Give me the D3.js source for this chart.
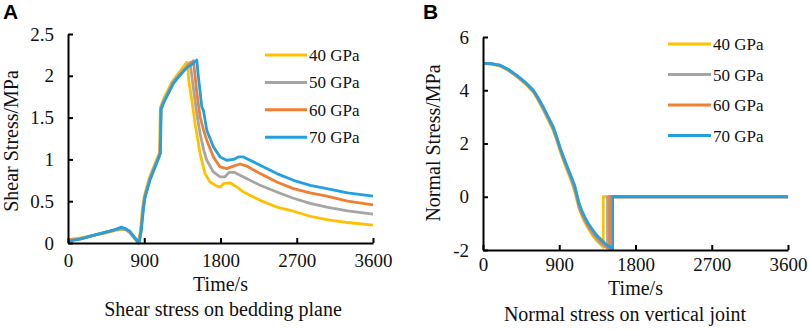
<!DOCTYPE html>
<html>
<head>
<meta charset="utf-8">
<script src="https://cdn.jsdelivr.net/npm/d3@7"></script>
<style>
  body { margin: 0; background: #fff; }
  svg text { font-family: "Liberation Serif", "Times New Roman", serif; fill: #111; }
</style>
</head>
<body>
<div id="chart"></div>
<script>
// ---- data ----
var seriesNames = ["40 GPa", "50 GPa", "60 GPa", "70 GPa"];
var seriesColors = ["#FFC000", "#A5A5A5", "#F07F32", "#23A0E0"];
var timeTicks = [0, 900, 1800, 2700, 3600];
var shearTicks = [0, 0.5, 1, 1.5, 2, 2.5];
var normalTicks = [-2, 0, 2, 4, 6];

// panel A: shear stress on bedding plane, [time s, MPa]
var shear40 = [[0,0.04],[150,0.06],[300,0.09],[450,0.12],[560,0.15],[630,0.16],[680,0.16],[730,0.12],[790,0.05],[830,0.0],[855,0.15],[880,0.42],[900,0.56],[960,0.78],[1035,0.97],[1080,1.08],[1085,1.35],[1090,1.62],[1120,1.7],[1160,1.79],[1230,1.93],[1290,2.01],[1350,2.09],[1400,2.16],[1415,2.1],[1425,1.95],[1461,1.71],[1500,1.43],[1559,1.07],[1618,0.83],[1677,0.73],[1756,0.68],[1800,0.67],[1834,0.71],[1913,0.72],[1992,0.67],[2071,0.61],[2268,0.51],[2465,0.43],[2661,0.38],[2858,0.32],[3055,0.28],[3300,0.245],[3600,0.215]];
var shear50 = [[0,0.03],[150,0.05],[300,0.09],[450,0.13],[560,0.16],[630,0.17],[680,0.16],[730,0.13],[790,0.05],[835,0.0],[860,0.15],[885,0.41],[905,0.55],[965,0.77],[1040,0.96],[1085,1.07],[1090,1.32],[1095,1.61],[1125,1.69],[1165,1.77],[1238,1.92],[1295,1.99],[1355,2.06],[1410,2.12],[1440,2.16],[1455,2.05],[1480,1.85],[1520,1.55],[1559,1.31],[1600,1.12],[1638,0.99],[1716,0.85],[1795,0.79],[1850,0.79],[1900,0.845],[1960,0.845],[2071,0.79],[2268,0.69],[2465,0.61],[2661,0.535],[2858,0.475],[3055,0.43],[3300,0.385],[3600,0.345]];
var shear60 = [[0,0.03],[150,0.05],[300,0.09],[450,0.13],[560,0.16],[630,0.18],[680,0.17],[730,0.13],[790,0.06],[838,0.0],[862,0.15],[887,0.41],[907,0.55],[967,0.76],[1042,0.95],[1087,1.07],[1092,1.31],[1097,1.6],[1127,1.68],[1167,1.76],[1240,1.91],[1298,1.98],[1358,2.05],[1420,2.12],[1480,2.18],[1495,2.05],[1520,1.8],[1559,1.51],[1600,1.35],[1638,1.23],[1716,1.03],[1795,0.91],[1874,0.89],[1953,0.92],[2031,0.945],[2110,0.92],[2268,0.83],[2465,0.73],[2661,0.65],[2858,0.6],[3055,0.56],[3300,0.5],[3600,0.455]];
var shear70 = [[0,0.02],[150,0.05],[300,0.09],[450,0.13],[560,0.16],[630,0.19],[680,0.17],[730,0.14],[790,0.06],[840,0.0],[865,0.15],[890,0.4],[910,0.55],[970,0.76],[1045,0.95],[1090,1.07],[1095,1.3],[1100,1.6],[1130,1.68],[1170,1.76],[1245,1.91],[1300,1.98],[1360,2.05],[1420,2.11],[1470,2.14],[1520,2.19],[1539,1.99],[1579,1.63],[1600,1.58],[1638,1.35],[1716,1.15],[1795,1.03],[1874,0.99],[1953,1.0],[2012,1.03],[2071,1.03],[2268,0.93],[2465,0.83],[2661,0.75],[2858,0.69],[3055,0.65],[3300,0.6],[3600,0.56]];

// panel B: normal stress on vertical joint, [time s, MPa]
var normal40 = [[0,5.0],[100,4.98],[203,4.91],[300,4.74],[400,4.51],[500,4.24],[595,3.92],[650,3.63],[712,3.26],[770,2.88],[830,2.49],[870,2.12],[908,1.74],[950,1.36],[987,1.04],[1030,0.7],[1065,0.38],[1080,0.22],[1105,-0.08],[1130,-0.4],[1163,-0.69],[1200,-0.95],[1241,-1.19],[1290,-1.43],[1340,-1.64],[1390,-1.8],[1419,-1.9],[1419,0],[3600,0]];
var normal50 = [[0,5.0],[100,4.99],[203,4.92],[300,4.76],[400,4.53],[500,4.27],[595,3.95],[650,3.67],[712,3.3],[770,2.93],[830,2.54],[870,2.17],[908,1.79],[950,1.42],[987,1.1],[1030,0.76],[1065,0.45],[1080,0.3],[1105,0.0],[1130,-0.33],[1163,-0.62],[1200,-0.88],[1241,-1.12],[1290,-1.36],[1340,-1.57],[1390,-1.74],[1437,-1.86],[1470,-1.93],[1470,0],[3600,0]];
var normal60 = [[0,5.01],[100,4.99],[203,4.93],[300,4.77],[400,4.54],[500,4.28],[595,3.97],[650,3.69],[712,3.33],[770,2.96],[830,2.57],[870,2.2],[908,1.82],[950,1.45],[987,1.14],[1030,0.8],[1065,0.5],[1080,0.38],[1105,0.05],[1130,-0.28],[1163,-0.57],[1200,-0.82],[1241,-1.07],[1290,-1.3],[1340,-1.51],[1390,-1.68],[1437,-1.81],[1470,-1.9],[1497,-1.95],[1497,0],[3600,0]];
var normal70 = [[0,5.02],[100,5.0],[203,4.94],[300,4.78],[400,4.56],[500,4.3],[595,4.0],[650,3.72],[712,3.37],[770,3.0],[830,2.62],[870,2.25],[908,1.87],[950,1.5],[987,1.19],[1030,0.85],[1065,0.56],[1080,0.45],[1105,0.13],[1130,-0.2],[1163,-0.5],[1200,-0.75],[1241,-1.0],[1290,-1.22],[1340,-1.44],[1390,-1.6],[1437,-1.75],[1480,-1.85],[1530,-1.96],[1530,0],[3600,0]];

var serif = '"Liberation Serif", "Times New Roman", serif';
var W = 809, H = 330;
var svg = d3.select("#chart").append("svg")
    .attr("width", W)
    .attr("height", H);

function drawPanel(p) {
  var g = svg.append("g");

  var xScale = d3.scaleLinear().domain([0, 3600]).range([p.left, p.right]);
  var yScale = d3.scaleLinear().domain(p.yDomain).range([p.bottom, p.top]);

  // lines first, axes drawn over them
  var line = d3.line()
    .x(function(d) { return xScale(d[0]); })
    .y(function(d) { return yScale(d[1]); });

  p.series.forEach(function(s, i) {
    g.append("path")
      .datum(s)
      .attr("d", line)
      .style("fill", "none")
      .style("stroke", seriesColors[i])
      .style("stroke-width", 2.8)
      .style("stroke-linejoin", "round");
  });

  // ticks point inward, like the excel original
  var xAxis = d3.axisBottom(xScale).tickValues(timeTicks).tickSizeInner(-5).tickSizeOuter(0).tickPadding(p.xPad)
    .tickFormat(function(d) { return String(d); });
  var yAxis = d3.axisLeft(yScale).tickValues(p.yTicks).tickSizeInner(-5).tickSizeOuter(0).tickPadding(14)
    .tickFormat(function(d) { return d < 0 ? "-" + Math.abs(d) : String(d); });

  var gx = g.append("g")
    .attr("transform", "translate(0," + p.bottom + ")")
    .call(xAxis);
  var gy = g.append("g")
    .attr("transform", "translate(" + p.left + ",0)")
    .call(yAxis);

  [gx, gy].forEach(function(a) {
    a.attr("font-family", null).attr("font-size", null);
    a.select(".domain").style("stroke", "#000").style("stroke-width", 2);
    a.selectAll(".tick line").style("stroke", "#000").style("stroke-width", 2);
    a.selectAll("text")
      .style("font-family", serif)
      .style("font-size", "19px")
      .style("fill", "#111");
  });
  gx.selectAll(".tick text").attr("dy", "0.8em");

  // axis titles
  g.append("text")
    .attr("text-anchor", "middle")
    .attr("x", (p.left + p.right) / 2)
    .attr("y", p.timeY)
    .style("font-family", serif)
    .style("font-size", "20px")
    .text("Time/s");

  g.append("text")
    .attr("text-anchor", "middle")
    .attr("transform", "translate(" + p.yLabelX + "," + p.yLabelY + ") rotate(-90)")
    .style("font-family", serif)
    .style("font-size", "20px")
    .text(p.yLabel);

  g.append("text")
    .attr("text-anchor", "middle")
    .attr("x", p.titleX)
    .attr("y", p.titleY)
    .style("font-family", serif)
    .style("font-size", "20px")
    .text(p.title);

  // panel letter
  g.append("text")
    .attr("x", p.letterX)
    .attr("y", 19)
    .style("font-family", '"Liberation Sans", Arial, sans-serif')
    .style("font-weight", "bold")
    .style("font-size", "21px")
    .style("fill", "#000")
    .text(p.letter);

  // legend
  seriesNames.forEach(function(name, i) {
    var ly = p.legendY + i * p.legendStep;
    g.append("line")
      .attr("x1", p.legendX)
      .attr("x2", p.legendX + p.legendLen)
      .attr("y1", ly)
      .attr("y2", ly)
      .style("stroke", seriesColors[i])
      .style("stroke-width", 3);
    g.append("text")
      .attr("x", p.legendX + p.legendLen + 2)
      .attr("y", ly + 6)
      .style("font-family", serif)
      .style("font-size", "17px")
      .text(name);
  });
}

drawPanel({
  letter: "A", letterX: 3,
  left: 68, right: 373, top: 34, bottom: 243,
  yDomain: [0, 2.5], yTicks: shearTicks, xPad: 9,
  series: [shear40, shear50, shear60, shear70],
  yLabel: "Shear Stress/MPa", yLabelX: 18, yLabelY: 141,
  timeY: 291,
  title: "Shear stress on bedding plane", titleX: 223, titleY: 316,
  legendX: 265, legendLen: 42, legendY: 55, legendStep: 27.4
});

drawPanel({
  letter: "B", letterX: 423,
  left: 483, right: 788, top: 37, bottom: 250,
  yDomain: [-2, 6], yTicks: normalTicks, xPad: 6,
  series: [normal40, normal50, normal60, normal70],
  yLabel: "Normal Stress/MPa", yLabelX: 440, yLabelY: 143,
  timeY: 295,
  title: "Normal stress on vertical joint", titleX: 625, titleY: 321,
  legendX: 668, legendLen: 43, legendY: 44, legendStep: 30.5
});
</script>
</body>
</html>
